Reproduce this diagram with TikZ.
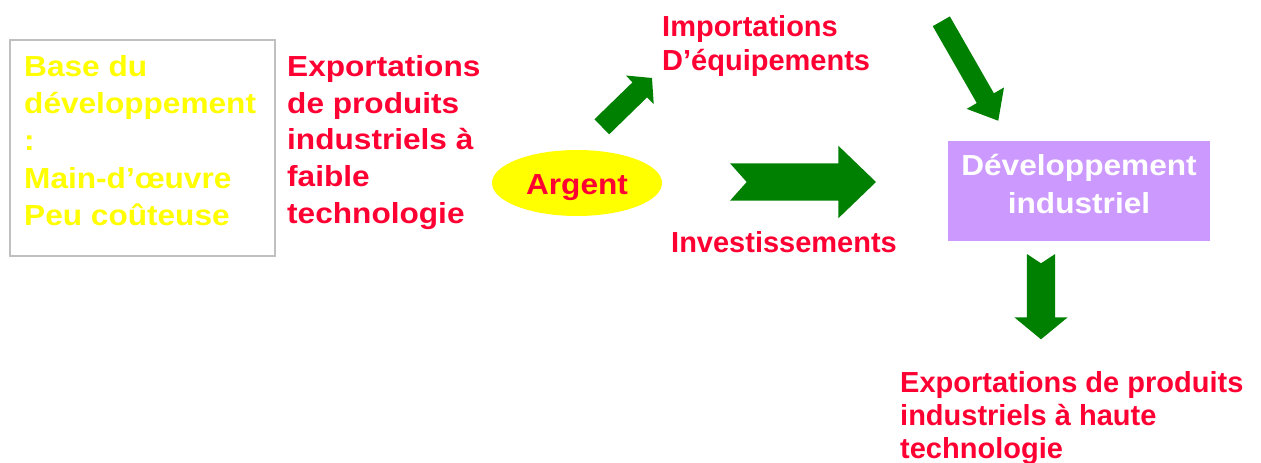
\documentclass[tikz,border=0pt]{standalone}
\usepackage{fontspec}
\setmainfont{Liberation Sans}
\newfontfamily\widefam[FakeStretch=1.09]{Liberation Sans}
\definecolor{txtred}{HTML}{FF0033}
\definecolor{txtyellow}{HTML}{FFFF00}
\definecolor{arrgreen}{HTML}{008000}
\definecolor{boxpurple}{HTML}{CC99FF}
\definecolor{boxgray}{HTML}{C0C0C0}
\usetikzlibrary{shapes.geometric}
\newcommand{\blockarrow}[8]{% #1 tail coord, #2 angle, #3 length, #4 shaft w, #5 head w, #6 head len, #7 notch, #8 name
  \fill[arrgreen, shift={(#1)}, rotate=#2]
    (0,{#4/2}) -- ({#3-#6},{#4/2}) -- ({#3-#6},{#5/2}) -- (#3,0) coordinate (#8)
    -- ({#3-#6},{-#5/2}) -- ({#3-#6},{-#4/2}) -- (0,{-#4/2}) -- (#7,0) -- cycle;}
\begin{document}
\begin{tikzpicture}[x=1pt,y=-1pt,
  lbl/.style={inner sep=0pt, anchor=north west, align=left},
  normfont/.style={font=\bfseries\fontsize{29}{#1}\selectfont},
  widefont/.style={font=\widefam\bfseries\fontsize{29}{#1}\selectfont}]
\useasboundingbox[fill=white] (0,0) rectangle (1261,463);

% boxes
\node[draw=boxgray, line width=2pt, minimum width=265pt, minimum height=216pt, inner sep=0pt] (basebox) at (142.5,148) {};
\node[fill=boxpurple, minimum width=261.7pt, minimum height=100.3pt, inner sep=0pt] (devbox) at (1079.2,190.9) {};
\node[ellipse, fill=txtyellow, minimum width=170pt, minimum height=66pt, inner sep=0pt] (argent) at (577,183) {};

% texts
\node[lbl, widefont=37.3, text=txtyellow] (basetxt) at (24,51)
  {\rule{0pt}{25pt}Base du\\ développement\\ :\\ Main-d’œuvre\\ Peu coûteuse};
\node[lbl, widefont=36.8, text=txtred] (exp1) at (287,51)
  {\rule{0pt}{25pt}Exportations\\ de produits\\ industriels à\\ faible\\ technologie};
\node[inner sep=0pt, anchor=base, widefont=30, text=txtred] (argtxt) at (577,194) {Argent};
\node[lbl, normfont=34, text=txtred] (imp) at (662,11)
  {\rule{0pt}{25pt}Importations\\ D’équipements};
\node[inner sep=0pt, anchor=base west, normfont=30, text=txtred] (inv) at (671,252) {Investissements};
\node[inner sep=0pt, anchor=north, align=center, widefont=38, text=white] (devtxt) at (1079,150)
  {\rule{0pt}{25pt}Développement\\ industriel};
\node[lbl, normfont=33, text=txtred] (exp2) at (900,367)
  {\rule{0pt}{25pt}Exportations de produits\\ industriels à haute\\ technologie};

% arrows
\coordinate (a1) at (601.8,126.8);
\coordinate (a2) at (941.3,21.3);
\coordinate (a3) at (730,182);
\coordinate (a4) at (1041,254);
\blockarrow{a1}{44.2}{70}{21}{40}{17}{0}{a1tip}
\blockarrow{a2}{-60.2}{114.6}{19.7}{43}{26}{0}{a2tip}
\blockarrow{a3}{0}{146}{37.4}{72.6}{37.7}{16.7}{a3tip}
\blockarrow{a4}{-90}{85.3}{28.3}{53.4}{22}{9.3}{a4tip}
\end{tikzpicture}
\end{document}
